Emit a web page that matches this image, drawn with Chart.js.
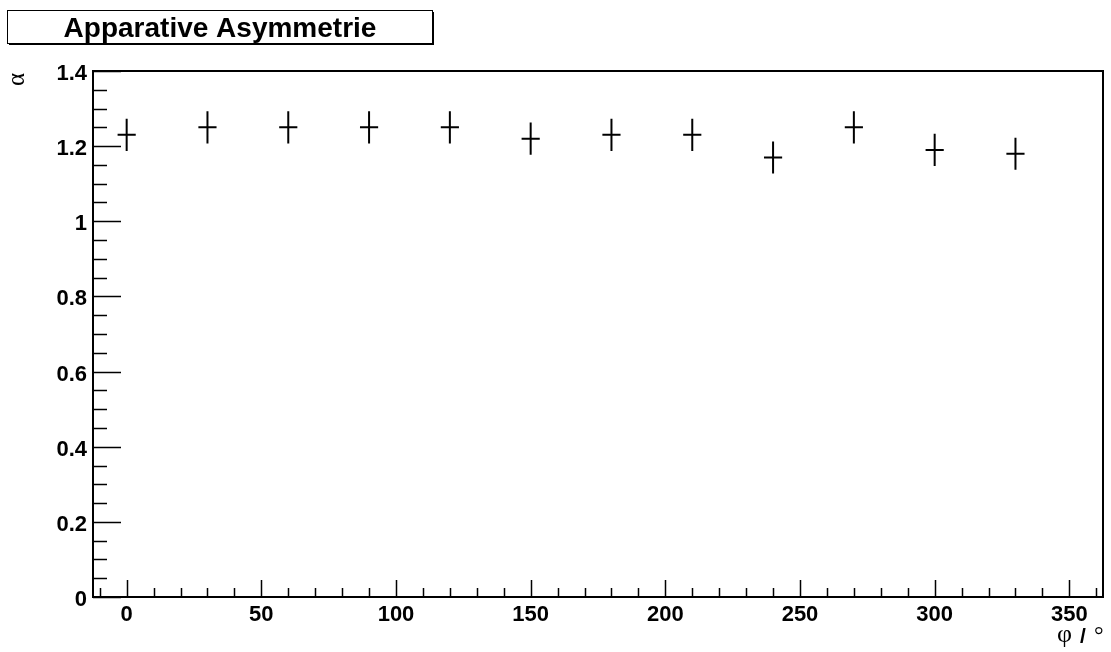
<!DOCTYPE html>
<html>
<head>
<meta charset="utf-8">
<script src="https://cdn.jsdelivr.net/npm/chart.js@4/dist/chart.umd.min.js"></script>
<style>
  body { margin: 0; background: #fff; }
  #wrap { width: 1111px; height: 652px; }
</style>
</head>
<body>
<div id="wrap"><canvas id="myChart" width="1111" height="652"></canvas></div>
<script>
// measured points: angle phi (deg) and asymmetry alpha
const angles = [0, 30, 60, 90, 120, 150, 180, 210, 240, 270, 300, 330];
const alpha = [1.23, 1.25, 1.25, 1.25, 1.25, 1.22, 1.23, 1.23, 1.17, 1.25, 1.19, 1.18];
const alphaErr = [0.04, 0.04, 0.04, 0.04, 0.04, 0.04, 0.04, 0.04, 0.04, 0.04, 0.04, 0.04];
const angleErr = [3, 3, 3, 3, 3, 3, 3, 3, 3, 3, 3, 3];

// axis ticks
const xTickLabels = [0, 50, 100, 150, 200, 250, 300, 350];
const yTickLabels = [0, 0.2, 0.4, 0.6, 0.8, 1, 1.2, 1.4];

const FONT = '"Liberation Sans", Arial, sans-serif';

// ROOT-like frame, inside ticks, error bars and titles
const rootStyle = {
    id: 'rootStyle',
    afterDraw(chart) {
        const ctx = chart.ctx;
        const a = chart.chartArea;
        const xs = chart.scales.x;
        const ys = chart.scales.y;
        ctx.save();
        ctx.strokeStyle = '#000';
        ctx.lineCap = 'butt';

        // frame
        ctx.lineWidth = 2;
        ctx.strokeRect(a.left, a.top, a.right - a.left, a.bottom - a.top);

        // x ticks (minor every 10, major every 50)
        ctx.lineWidth = 1.5;
        ctx.beginPath();
        for (let v = -10; v <= 360; v += 10) {
            const px = Math.round(xs.getPixelForValue(v)) + 0.5;
            const len = v % 50 === 0 ? 17 : 9;
            ctx.moveTo(px, a.bottom);
            ctx.lineTo(px, a.bottom - len);
        }
        // y ticks (minor every 0.05, major every 0.2)
        for (let i = 0; i <= 28; i++) {
            const py = Math.round(ys.getPixelForValue(i * 0.05)) + 0.5;
            const len = i % 4 === 0 ? 28 : 14;
            ctx.moveTo(a.left, py);
            ctx.lineTo(a.left + len, py);
        }
        ctx.stroke();

        // error bars
        ctx.lineWidth = 2;
        ctx.beginPath();
        for (let i = 0; i < angles.length; i++) {
            const x0 = xs.getPixelForValue(angles[i] - angleErr[i]);
            const x1 = xs.getPixelForValue(angles[i] + angleErr[i]);
            const xc = xs.getPixelForValue(angles[i]);
            const y0 = ys.getPixelForValue(alpha[i] - alphaErr[i]);
            const y1 = ys.getPixelForValue(alpha[i] + alphaErr[i]);
            const yc = ys.getPixelForValue(alpha[i]);
            ctx.moveTo(x0, yc); ctx.lineTo(x1, yc);
            ctx.moveTo(xc, y0); ctx.lineTo(xc, y1);
            // small end caps
            ctx.moveTo(x0, yc - 1); ctx.lineTo(x0, yc + 1);
            ctx.moveTo(x1, yc - 1); ctx.lineTo(x1, yc + 1);
            ctx.moveTo(xc - 1, y0); ctx.lineTo(xc + 1, y0);
            ctx.moveTo(xc - 1, y1); ctx.lineTo(xc + 1, y1);
        }
        ctx.stroke();

        // title box
        ctx.fillStyle = '#000';
        ctx.fillRect(9, 43, 425, 2);
        ctx.fillRect(432, 12, 2, 33);
        ctx.fillStyle = '#fff';
        ctx.fillRect(8, 10, 424, 33);
        ctx.lineWidth = 1;
        ctx.strokeRect(7.5, 10.5, 425, 33);
        ctx.fillStyle = '#000';
        ctx.font = 'bold 28px ' + FONT;
        ctx.textAlign = 'center';
        ctx.textBaseline = 'alphabetic';
        ctx.fillText('Apparative Asymmetrie', 220, 37);

        // y axis title
        ctx.save();
        ctx.translate(24, 73);
        ctx.rotate(-Math.PI / 2);
        ctx.textAlign = 'right';
        ctx.font = '25px "Liberation Serif", serif';
        ctx.fillText('α', 0, 0);
        ctx.restore();

        // x axis title
        ctx.textAlign = 'left';
        ctx.font = '26px "Liberation Serif", serif';
        ctx.fillText('φ', 1057, 642);
        ctx.font = 'bold 21px ' + FONT;
        ctx.fillText('/', 1080, 643);
        ctx.font = '24px "Liberation Serif", serif';
        ctx.fillText('°', 1094, 643);

        ctx.restore();
    }
};

const ctx = document.getElementById('myChart').getContext('2d');
const myChart = new Chart(ctx, {
    type: 'scatter',
    data: {
        datasets: [{
            label: 'alpha',
            data: angles.map((a, i) => ({ x: a, y: alpha[i] })),
            pointRadius: 0,
            showLine: false
        }]
    },
    options: {
        responsive: false,
        animation: false,
        events: [],
        layout: { padding: { top: 71, right: 8, left: 0, bottom: 0 } },
        plugins: {
            legend: { display: false },
            title: { display: false },
            tooltip: { enabled: false }
        },
        scales: {
            x: {
                type: 'linear',
                min: -12.5,
                max: 362.5,
                grid: { display: false, drawTicks: false },
                border: { display: false },
                afterBuildTicks: (s) => { s.ticks = xTickLabels.map(v => ({ value: v })); },
                afterFit: (s) => { s.height = 55; },
                ticks: {
                    autoSkip: false,
                    maxRotation: 0,
                    padding: 5,
                    color: '#000',
                    font: { family: FONT, size: 22, weight: 'bold' }
                }
            },
            y: {
                type: 'linear',
                min: 0,
                max: 1.4,
                grid: { display: false, drawTicks: false },
                border: { display: false },
                afterBuildTicks: (s) => { s.ticks = yTickLabels.map(v => ({ value: v })); },
                afterFit: (s) => { s.width = 93; },
                ticks: {
                    autoSkip: false,
                    padding: 6,
                    labelOffset: 3,
                    color: '#000',
                    font: { family: FONT, size: 22, weight: 'bold' },
                    callback: (v) => String(Math.round(v * 10) / 10)
                }
            }
        }
    },
    plugins: [rootStyle]
});
</script>
</body>
</html>
